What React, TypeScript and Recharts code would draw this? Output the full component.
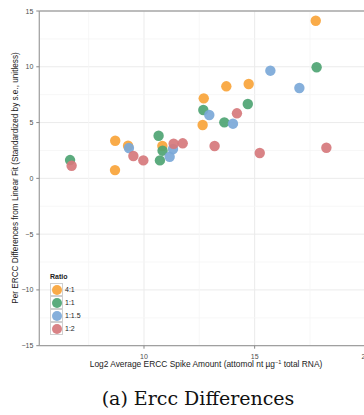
import React from 'react';
import { ScatterChart, Scatter, XAxis, YAxis, CartesianGrid, ReferenceLine, Label } from 'recharts';

const ratioLabels = ['4:1', '1:1', '1:1.5', '1:2'];
const ratioColors = ['#F9A43A', '#4EA473', '#7BA8D8', '#D6787C'];

const x41 = [8.70, 8.69, 9.28, 10.83, 12.65, 12.70, 13.72, 14.73, 17.76];
const y41 = [3.37, 0.74, 2.92, 2.90, 4.78, 7.17, 8.25, 8.46, 14.13];

const x11 = [6.66, 10.66, 10.84, 10.72, 12.68, 13.63, 14.69, 17.80];
const y11 = [1.64, 3.82, 2.48, 1.61, 6.13, 5.02, 6.66, 9.96];

const x115 = [9.32, 11.16, 11.31, 12.95, 14.02, 15.71, 17.02];
const y115 = [2.72, 1.94, 2.63, 5.68, 4.90, 9.65, 8.10];

const x12 = [6.73, 9.52, 9.97, 11.34, 11.75, 13.19, 14.20, 15.23, 18.24];
const y12 = [1.13, 2.00, 1.61, 3.10, 3.14, 2.90, 5.83, 2.27, 2.74];

const xTicks = [10, 15, 20];
const yTicks = [-15, -10, -5, 0, 5, 10, 15];
const xMinor = [7.5, 12.5, 17.5];
const yMinor = [-12.5, -7.5, -2.5, 2.5, 7.5, 12.5];

const legendTitle = 'Ratio';
const xTitle = 'Log2 Average ERCC Spike Amount (attomol nt \u00B5g';
const xTitleSup = '\u22121';
const xTitleEnd = ' total RNA)';
const yTitle = 'Per ERCC Differences from Linear Fit (Standardized by s.e., unitless)';
const caption = '(a) Ercc Differences';

const zip = (xs: number[], ys: number[]) => xs.map((x, i) => ({ x, y: ys[i] }));
const seriesData = [zip(x41, y41), zip(x11, y11), zip(x115, y115), zip(x12, y12)];

const FONT = '"Liberation Sans", Arial, sans-serif';

const makeShape = (color: string) => (props: any) => (
  <circle cx={props.cx} cy={props.cy} r={5.2} fill={color} fillOpacity={0.92} />
);

const XTick = (props: any) => {
  const { x, y, payload } = props;
  return (
    <text x={x} y={y + 8} textAnchor="middle" fontSize={7} fill="#4d4d4d" fontFamily={FONT}>
      {payload.value}
    </text>
  );
};

const YTick = (props: any) => {
  const { x, y, payload } = props;
  const v = payload.value < 0 ? '\u2212' + Math.abs(payload.value) : String(payload.value);
  return (
    <text x={x - 1} y={y + 2.5} textAnchor="end" fontSize={7} fill="#4d4d4d" fontFamily={FONT}>
      {v}
    </text>
  );
};

const LegendBox = () => (
  <div style={{ position: 'absolute', left: 50, top: 271, fontFamily: FONT, color: '#222' }}>
    <div style={{ fontSize: 7, fontWeight: 'bold', height: 12, lineHeight: '12px' }}>{legendTitle}</div>
    <div>
      {ratioLabels.map((lab, i) => (
        <div key={lab} style={{ display: 'flex', alignItems: 'center', height: 13 }}>
          <div
            style={{
              width: 13,
              height: 13,
              border: '0.8px solid #cfcfcf',
              display: 'flex',
              alignItems: 'center',
              justifyContent: 'center',
              boxSizing: 'border-box',
            }}
          >
            <div style={{ width: 10, height: 10, borderRadius: 5, background: ratioColors[i], opacity: 0.92 }} />
          </div>
          <span style={{ fontSize: 7, marginLeft: 2 }}>{lab}</span>
        </div>
      ))}
    </div>
  </div>
);

export default function App() {
  return (
    <div style={{ position: 'absolute', left: 0, top: 0, width: 364, height: 415, overflow: 'hidden', background: '#fff' }}>
      <ScatterChart width={400} height={415} margin={{ top: 11, right: 21.4, left: 0, bottom: 0 }}>
        <CartesianGrid stroke="#ebebeb" strokeWidth={1} />
        {xMinor.map((v) => (
          <ReferenceLine key={'xm' + v} x={v} stroke="#f5f5f5" strokeWidth={0.8} />
        ))}
        {yMinor.map((v) => (
          <ReferenceLine key={'ym' + v} y={v} stroke="#f5f5f5" strokeWidth={0.8} />
        ))}
        <ReferenceLine y={15} stroke="#a8a8a8" strokeWidth={1.3} />
        <XAxis
          type="number"
          dataKey="x"
          domain={[5.27, 20.6]}
          ticks={xTicks}
          allowDataOverflow
          height={69.3}
          tick={<XTick />}
          tickSize={3}
          tickLine={{ stroke: '#888' }}
          axisLine={{ stroke: '#a0a0a0', strokeWidth: 1.2 }}
        >
          <Label
            content={() => (
              <text x={206} y={367} textAnchor="middle" fontSize={8.4} fill="#222" fontFamily={FONT}>
                {xTitle}
                <tspan dy={-3} fontSize={5.5}>{xTitleSup}</tspan>
                <tspan dy={3}>{xTitleEnd}</tspan>
              </text>
            )}
          />
        </XAxis>
        <YAxis
          type="number"
          dataKey="y"
          domain={[-15, 15]}
          ticks={yTicks}
          allowDataOverflow
          width={39.3}
          tick={<YTick />}
          tickSize={3}
          tickLine={{ stroke: '#888' }}
          axisLine={{ stroke: '#a0a0a0', strokeWidth: 1.2 }}
        >
          <Label
            content={() => (
              <text
                x={16}
                y={178}
                transform="rotate(-90 16 178)"
                textAnchor="middle"
                dominantBaseline="middle"
                fontSize={8.2}
                fill="#222"
                fontFamily={FONT}
              >
                {yTitle}
              </text>
            )}
          />
        </YAxis>
        {seriesData.map((d, i) => (
          <Scatter
            key={ratioLabels[i]}
            name={ratioLabels[i]}
            data={d}
            fill={ratioColors[i]}
            shape={makeShape(ratioColors[i])}
            isAnimationActive={false}
          />
        ))}
      </ScatterChart>
      <LegendBox />
      <svg width={364} height={415} style={{ position: 'absolute', left: 0, top: 0, pointerEvents: 'none' }}>
        <text x={198} y={405} textAnchor="middle" fontSize={19} fill="#111" fontFamily='"DejaVu Serif", serif'>
          {caption}
        </text>
      </svg>
    </div>
  );
}
